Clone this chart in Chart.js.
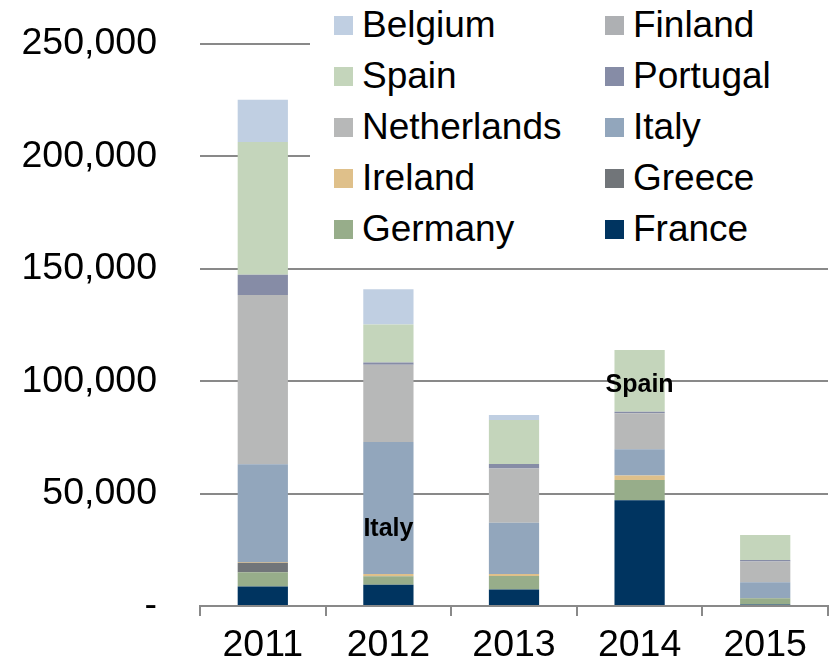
<!DOCTYPE html>
<html>
<head>
<meta charset="utf-8">
<script src="https://cdn.jsdelivr.net/npm/chart.js@4/dist/chart.umd.min.js"></script>
<style>
  html, body { margin: 0; padding: 0; background: #ffffff; }
  #wrap { position: relative; width: 835px; height: 665px; }
  #legend { position: absolute; left: 310px; top: 0px; width: 520px; height: 258px; background: #ffffff; }
  .item { position: absolute; height: 40px; display: flex; align-items: center; font-family: Arial, "Liberation Sans", sans-serif; font-size: 37px; color: #000; white-space: nowrap; }
  .sw { width: 19px; height: 19px; margin-right: 9px; flex: none; }
</style>
</head>
<body>
<div id="wrap">
  <canvas id="c" width="835" height="665"></canvas>
  <div id="legend"></div>
</div>
<script>
// ---- Data ----
const categories = ['2011', '2012', '2013', '2014', '2015'];
const france      = [8700, 9500, 7300, 47000, 700];
const germany     = [6300, 3700, 6100, 9000, 2800];
const greece      = [4200, 0, 0, 0, 0];
const ireland     = [400, 1000, 800, 2000, 0];
const italy       = [43500, 58800, 22800, 11700, 7100];
const netherlands = [75200, 34300, 24200, 16000, 9200];
const portugal    = [9000, 1000, 2000, 700, 700];
const spain       = [59100, 16900, 19500, 27500, 11100];
const finland     = [0, 0, 0, 0, 0];
const belgium     = [18800, 15700, 2300, 0, 0];

const seriesNames  = ['France', 'Germany', 'Greece', 'Ireland', 'Italy', 'Netherlands', 'Portugal', 'Spain', 'Finland', 'Belgium'];
const seriesValues = [france, germany, greece, ireland, italy, netherlands, portugal, spain, finland, belgium];
const seriesColors = ['#003460', '#97ad8a', '#717579', '#dfc08a', '#92a6bc', '#b7b8b8', '#868ca6', '#c4d5bb', '#aeb0b3', '#c0cfe2'];

const yTicks = [0, 50000, 100000, 150000, 200000, 250000];

const noteLabels = ['Italy', 'Spain'];
const noteCats   = ['2012', '2014'];
const noteValues = [34000, 98400];

// ---- Chart ----
const FONT = 'Arial, "Liberation Sans", sans-serif';
const GRID = '#898989';

const datasets = seriesNames.map((n, i) => ({
  label: n,
  data: seriesValues[i],
  backgroundColor: seriesColors[i],
  borderWidth: 0,
  barPercentage: 0.4,
  categoryPercentage: 1.0
}));

const notesPlugin = {
  id: 'notes',
  afterDatasetsDraw(chart) {
    const ctx = chart.ctx;
    const xs = chart.scales.x, ys = chart.scales.y;
    ctx.save();
    ctx.font = 'bold 25px ' + FONT;
    ctx.fillStyle = '#000000';
    ctx.textAlign = 'center';
    ctx.textBaseline = 'middle';
    noteLabels.forEach((t, i) => {
      const x = xs.getPixelForValue(categories.indexOf(noteCats[i]));
      const y = ys.getPixelForValue(noteValues[i]);
      ctx.fillText(t, x, y);
    });
    ctx.restore();
  }
};

new Chart(document.getElementById('c'), {
  type: 'bar',
  data: { labels: categories, datasets },
  options: {
    responsive: false,
    animation: false,
    layout: { padding: { left: 0, right: 7, top: 44, bottom: 0 } },
    plugins: { legend: { display: false }, tooltip: { enabled: false } },
    scales: {
      x: {
        stacked: true,
        afterFit(s) { s.height = 59; s.paddingLeft = 0; s.paddingRight = 0; },
        grid: { offset: true, drawOnChartArea: false, drawTicks: true, tickLength: 10, color: GRID, lineWidth: 2 },
        border: { display: true, color: GRID, width: 2 },
        ticks: { color: '#000000', font: { family: FONT, size: 37.5 }, padding: 7, maxRotation: 0 }
      },
      y: {
        stacked: true,
        min: 0,
        max: 250000,
        afterFit(s) { s.width = 200; s.paddingTop = 0; s.paddingBottom = 0; },
        afterBuildTicks(s) { s.ticks = yTicks.map(v => ({ value: v })); },
        grid: { drawTicks: false, color: GRID, lineWidth: 2 },
        border: { display: false },
        ticks: {
          color: '#000000',
          font: { family: FONT, size: 37.5 },
          padding: 43,
          callback: v => v === 0 ? '-' : v.toLocaleString('en-US')
        }
      }
    }
  },
  plugins: [notesPlugin]
});

// ---- HTML legend (legend order = reverse of stacking order) ----
const legendEl = document.getElementById('legend');
const legendOrder = seriesNames.map((_, i) => i).reverse();
legendOrder.forEach((si, k) => {
  const row = Math.floor(k / 2), col = k % 2;
  const it = document.createElement('div');
  it.className = 'item';
  it.style.left = (col === 0 ? 24 : 295) + 'px';
  it.style.top = (5 + row * 51.1) + 'px';
  const sw = document.createElement('span');
  sw.className = 'sw';
  sw.style.background = seriesColors[si];
  const tx = document.createElement('span');
  tx.textContent = seriesNames[si];
  it.appendChild(sw);
  it.appendChild(tx);
  legendEl.appendChild(it);
});
</script>
</body>
</html>
